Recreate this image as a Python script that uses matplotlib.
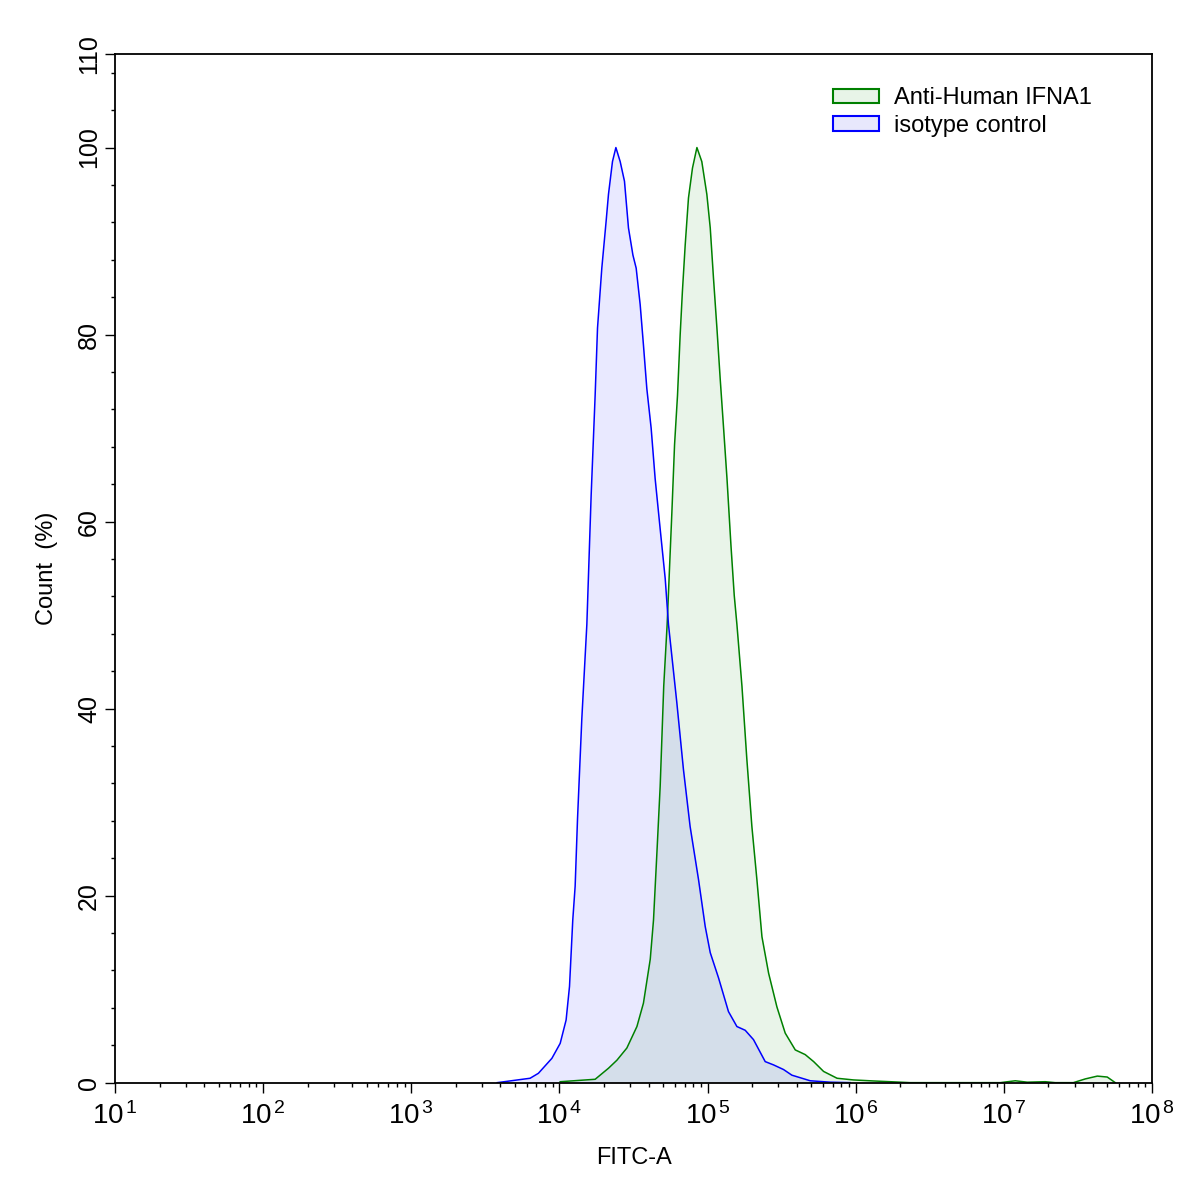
import matplotlib
matplotlib.use("Agg")
import matplotlib.pyplot as plt
import numpy as np
from matplotlib.patches import Patch
from matplotlib.ticker import LogLocator, MultipleLocator, FixedLocator

plt.rcParams.update({"font.family": ["Liberation Sans", "DejaVu Sans"],
                     "mathtext.fontset": "custom", "mathtext.rm": "Liberation Sans",
                     "mathtext.it": "Liberation Sans", "font.size": 17})

# isotype control (blue): FITC-A intensity (log10) vs count %
iso_log = [3.58, 3.802, 3.858, 3.949, 4.005, 4.045, 4.068, 4.090, 4.106, 4.122, 4.151, 4.185,
           4.214, 4.241, 4.257, 4.286, 4.315, 4.331, 4.358, 4.381, 4.410, 4.439, 4.466, 4.496,
           4.518, 4.545, 4.567, 4.590, 4.619, 4.646, 4.680, 4.714, 4.736, 4.792, 4.837, 4.882,
           4.939, 4.984, 5.018, 5.074, 5.141, 5.198, 5.254, 5.310, 5.389, 5.445, 5.513, 5.569,
           5.693, 5.828, 5.963]
iso_pct = [0.0, 0.47, 1.0, 2.6, 4.2, 6.7, 10.3, 17.4, 21.0, 28.2, 38.9, 49.0,
           62.8, 73.5, 80.7, 87.1, 92.1, 95.0, 98.5, 100.0, 98.5, 96.4, 91.4, 88.5,
           87.1, 83.2, 78.9, 74.2, 70.0, 64.6, 59.2, 53.9, 49.0, 40.7, 33.5, 27.4,
           21.7, 16.7, 13.9, 11.2, 7.6, 6.0, 5.6, 4.6, 2.25, 1.9, 1.4, 0.8,
           0.2, 0.05, 0.0]

# Anti-Human IFNA1 (green)
ifn_log = [4.005, 4.241, 4.331, 4.388, 4.455, 4.523, 4.567, 4.613, 4.635, 4.658, 4.680, 4.704,
           4.727, 4.759, 4.777, 4.797, 4.815, 4.830, 4.849, 4.871, 4.898, 4.928, 4.961, 4.995,
           5.018, 5.040, 5.063, 5.085, 5.108, 5.131, 5.158, 5.180, 5.198, 5.232, 5.265, 5.299,
           5.333, 5.367, 5.412, 5.468, 5.524, 5.592, 5.659, 5.716, 5.783, 5.874, 5.985, 6.120,
           6.233, 6.368, 6.976, 7.077, 7.158, 7.279, 7.347, 7.469, 7.55, 7.631, 7.698, 7.752]
ifn_pct = [0.1, 0.36, 1.54, 2.4, 3.7, 6.0, 8.5, 13.2, 17.4, 24.6, 31.7, 42.4,
           49.0, 61.0, 68.2, 73.5, 80.0, 84.6, 89.6, 94.6, 97.8, 100.0, 98.5, 95.0,
           91.4, 86.0, 80.7, 75.3, 70.0, 64.6, 57.4, 52.1, 49.0, 42.4, 34.6, 27.4,
           21.7, 15.6, 11.7, 8.1, 5.3, 3.5, 3.0, 2.25, 1.2, 0.47, 0.29, 0.18,
           0.1, 0.0, 0.0, 0.2, 0.05, 0.1, 0.0, 0.0, 0.4, 0.7, 0.6, 0.0]

labels = ["Anti-Human IFNA1", "isotype control"]

fig = plt.figure(figsize=(11.97, 11.93), dpi=100)
ax = fig.add_axes([0.0961, 0.0925, 0.8663, 0.8622])

ifn_x = 10 ** np.array(ifn_log)
iso_x = 10 ** np.array(iso_log)
ax.fill_between(ifn_x, ifn_pct, color="green", alpha=0.085, lw=0)
ax.fill_between(iso_x, iso_pct, color="blue", alpha=0.085, lw=0)
ax.plot(ifn_x, ifn_pct, color="green", lw=1.1)
ax.plot(iso_x, iso_pct, color="blue", lw=1.1)

ax.set_xscale("log")
ax.set_xlim(10, 1e8)
ax.set_ylim(0, 110)
ax.xaxis.set_major_locator(FixedLocator([10 ** k for k in range(1, 9)]))
ax.set_xticklabels([f"$10^{{\\,{k}}}$" for k in range(1, 9)], fontsize=20)
ax.xaxis.set_minor_locator(LogLocator(base=10, subs=np.arange(2, 10), numticks=20))
ax.yaxis.set_minor_locator(MultipleLocator(4))
ax.set_yticks([0, 20, 40, 60, 80, 100, 110])
ax.set_yticklabels(["0", "20", "40", "60", "80", "100", "110"], fontsize=18,
                   rotation=90, va="center")
ax.tick_params(which="major", length=7, width=1)
ax.tick_params(which="minor", length=3, width=1)
ax.tick_params(axis="y", pad=3)
ax.tick_params(axis="x", pad=7)
for s in ax.spines.values():
    s.set_linewidth(1.3)

ax.set_xlabel("FITC-A", fontsize=17, labelpad=12)
ax.set_ylabel("Count  (%)", fontsize=17, labelpad=14)

handles = [Patch(facecolor=(0.91, 0.955, 0.91), edgecolor="green", lw=1.5),
           Patch(facecolor=(0.91, 0.91, 0.99), edgecolor="blue", lw=1.5)]
ax.legend(handles, labels, loc="upper right", frameon=False, fontsize=17,
          handlelength=1.95, handleheight=0.55, handletextpad=0.65, labelspacing=0.25,
          bbox_to_anchor=(0.958, 0.984), borderpad=0.2)

fig.savefig("out.png", dpi=100)
